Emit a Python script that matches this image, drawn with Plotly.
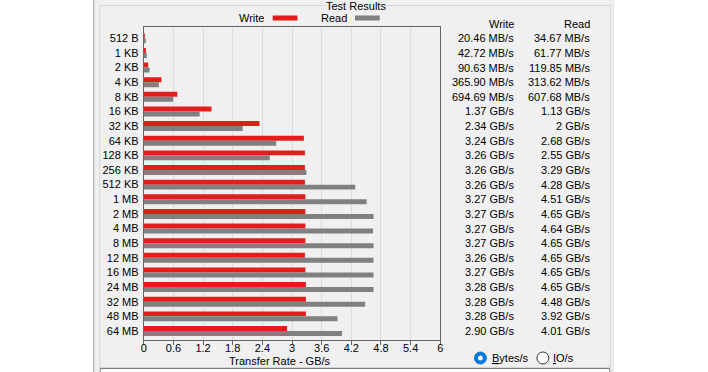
import plotly.graph_objects as go

# ---------------- data ----------------
block_sizes = ["512 B", "1 KB", "2 KB", "4 KB", "8 KB", "16 KB", "32 KB", "64 KB",
               "128 KB", "256 KB", "512 KB", "1 MB", "2 MB", "4 MB", "8 MB",
               "12 MB", "16 MB", "24 MB", "32 MB", "48 MB", "64 MB"]
write_vals = [20.46, 42.72, 90.63, 365.90, 694.69, 1.37, 2.34, 3.24, 3.26, 3.26, 3.26,
              3.27, 3.27, 3.27, 3.27, 3.26, 3.27, 3.28, 3.28, 3.28, 2.90]
write_units = ["MB/s"] * 5 + ["GB/s"] * 16
read_vals = [34.67, 61.77, 119.85, 313.62, 607.68, 1.13, 2, 2.68, 2.55, 3.29, 4.28,
             4.51, 4.65, 4.64, 4.65, 4.65, 4.65, 4.65, 4.48, 3.92, 4.01]
read_units = ["MB/s"] * 5 + ["GB/s"] * 16
x_ticks = [0, 0.6, 1.2, 1.8, 2.4, 3, 3.6, 4.2, 4.8, 5.4, 6]
x_tick_labels = ["0", "0.6", "1.2", "1.8", "2.4", "3", "3.6", "4.2", "4.8", "5.4", "6"]


def to_gb(v, u):
    return v / 1024 if u == "MB/s" else v


def fmt(v, u):
    s = str(int(v)) if v == int(v) else f"{v:.2f}"
    return f"{s} {u}"


write_gb = [to_gb(v, u) for v, u in zip(write_vals, write_units)]
read_gb = [to_gb(v, u) for v, u in zip(read_vals, read_units)]
write_text = [fmt(v, u) for v, u in zip(write_vals, write_units)]
read_text = [fmt(v, u) for v, u in zip(read_vals, read_units)]

W, H = 708, 372
FONT = "Liberation Sans, Arial, sans-serif"
RED = "#e41c1c"
GRAY = "#808080"


def px(x):
    return x / W


def py(y):
    return 1 - y / H


ypos = list(range(len(block_sizes)))

fig = go.Figure()
fig.add_trace(go.Bar(y=ypos, x=write_gb, orientation="h", name="Write",
                     marker=dict(color=RED, line=dict(width=0)), hoverinfo="skip"))
fig.add_trace(go.Bar(y=ypos, x=read_gb, orientation="h", name="Read",
                     marker=dict(color=GRAY, line=dict(width=0)), hoverinfo="skip"))

shapes = [
    # gray dialog panel
    dict(type="rect", xref="paper", yref="paper", x0=px(91), x1=px(616), y0=py(372), y1=py(0),
         fillcolor="#f0f0f0", line=dict(width=0), layer="below"),
    dict(type="line", xref="paper", yref="paper", x0=px(91.5), x1=px(91.5), y0=py(372), y1=py(0),
         line=dict(color="#a0a0a0", width=1), layer="below"),
    dict(type="line", xref="paper", yref="paper", x0=px(615.5), x1=px(615.5), y0=py(372), y1=py(0),
         line=dict(color="#e3e3e3", width=1), layer="below"),
    # group box
    dict(type="rect", xref="paper", yref="paper", x0=px(97.5), x1=px(612.5), y0=py(367.5), y1=py(5.5),
         line=dict(color="#d5d5d5", width=1), layer="below"),
    # bottom box
    dict(type="rect", xref="paper", yref="paper", x0=px(98), x1=px(612), y0=py(373), y1=py(368.5),
         fillcolor="#ffffff", line=dict(color="#7a7a7a", width=1), layer="below"),
    # legend swatches
    dict(type="rect", xref="paper", yref="paper", x0=px(272), x1=px(297), y0=py(20.5), y1=py(15.5),
         fillcolor=RED, line=dict(width=0)),
    dict(type="rect", xref="paper", yref="paper", x0=px(355), x1=px(380), y0=py(20.5), y1=py(15.5),
         fillcolor=GRAY, line=dict(width=0)),
]


def circle(cx, cy, r, fill, lc, lw):
    return dict(type="circle", xref="paper", yref="paper", x0=px(cx - r), x1=px(cx + r),
                y0=py(cy + r), y1=py(cy - r), fillcolor=fill, line=dict(color=lc, width=lw))


shapes.append(circle(481.5, 358, 6, "#0078d7", "#0078d7", 1))
shapes.append(circle(481.5, 358, 2.5, "#ffffff", "#ffffff", 0))
shapes.append(circle(544.5, 358, 6, "#ffffff", "#333333", 1))

ann = []


def text(x, y, s, anchor="center", yref="paper"):
    ann.append(dict(x=px(x), y=(py(y) if yref == "paper" else y), xref="paper", yref=yref,
                    text=s, showarrow=False, xanchor=anchor, yanchor="middle",
                    font=dict(family=FONT, size=11, color="#000")))


text(356, 6, "Test Results")
ann[-1].update(bgcolor="#f0f0f0", borderpad=0)
text(265, 18, "Write", "right")
text(349, 18, "Read", "right")
text(517, 24, "Write", "right")
text(594, 24, "Read", "right")
for i in ypos:
    text(517, i, write_text[i], "right", yref="y")
    text(594, i, read_text[i], "right", yref="y")
text(279, 361, "Transfer Rate - GB/s")
text(491, 358, "<u>B</u>ytes/s", "left")
text(553, 358, "<u>I</u>O/s", "left")

fig.update_layout(
    width=W, height=H,
    margin=dict(l=0, r=0, t=0, b=0),
    paper_bgcolor="#ffffff",
    plot_bgcolor="#ffffff",
    barmode="group",
    bargap=0.32,
    bargroupgap=0,
    showlegend=False,
    shapes=shapes,
    annotations=ann,
    font=dict(family=FONT, size=11, color="#000"),
    xaxis=dict(
        domain=[px(142), px(441)],
        range=[0, 6],
        tickvals=x_ticks, ticktext=x_tick_labels,
        showgrid=True, gridcolor="#dcdcdc", gridwidth=1,
        zeroline=False,
        showline=True, linecolor="#646464", linewidth=1, mirror=True,
        ticks="outside", ticklen=4, tickcolor="#646464",
        ticklabelstandoff=-6,
        tickfont=dict(family=FONT, size=11, color="#000"),
        fixedrange=True,
    ),
    yaxis=dict(
        domain=[py(339.5), py(26.7)],
        range=[20.58, -0.79],
        tickvals=ypos, ticktext=block_sizes,
        showgrid=False, zeroline=False,
        showline=True, linecolor="#646464", linewidth=1, mirror=True,
        ticks="", ticklabelstandoff=2,
        tickfont=dict(family=FONT, size=11, color="#000"),
        fixedrange=True,
    ),
)

fig.write_html(
    "out.html",
    config={"displayModeBar": False, "responsive": False},
    post_script="document.body.style.margin='0';document.body.style.overflow='hidden';"
                "document.documentElement.style.overflow='hidden';",
)
